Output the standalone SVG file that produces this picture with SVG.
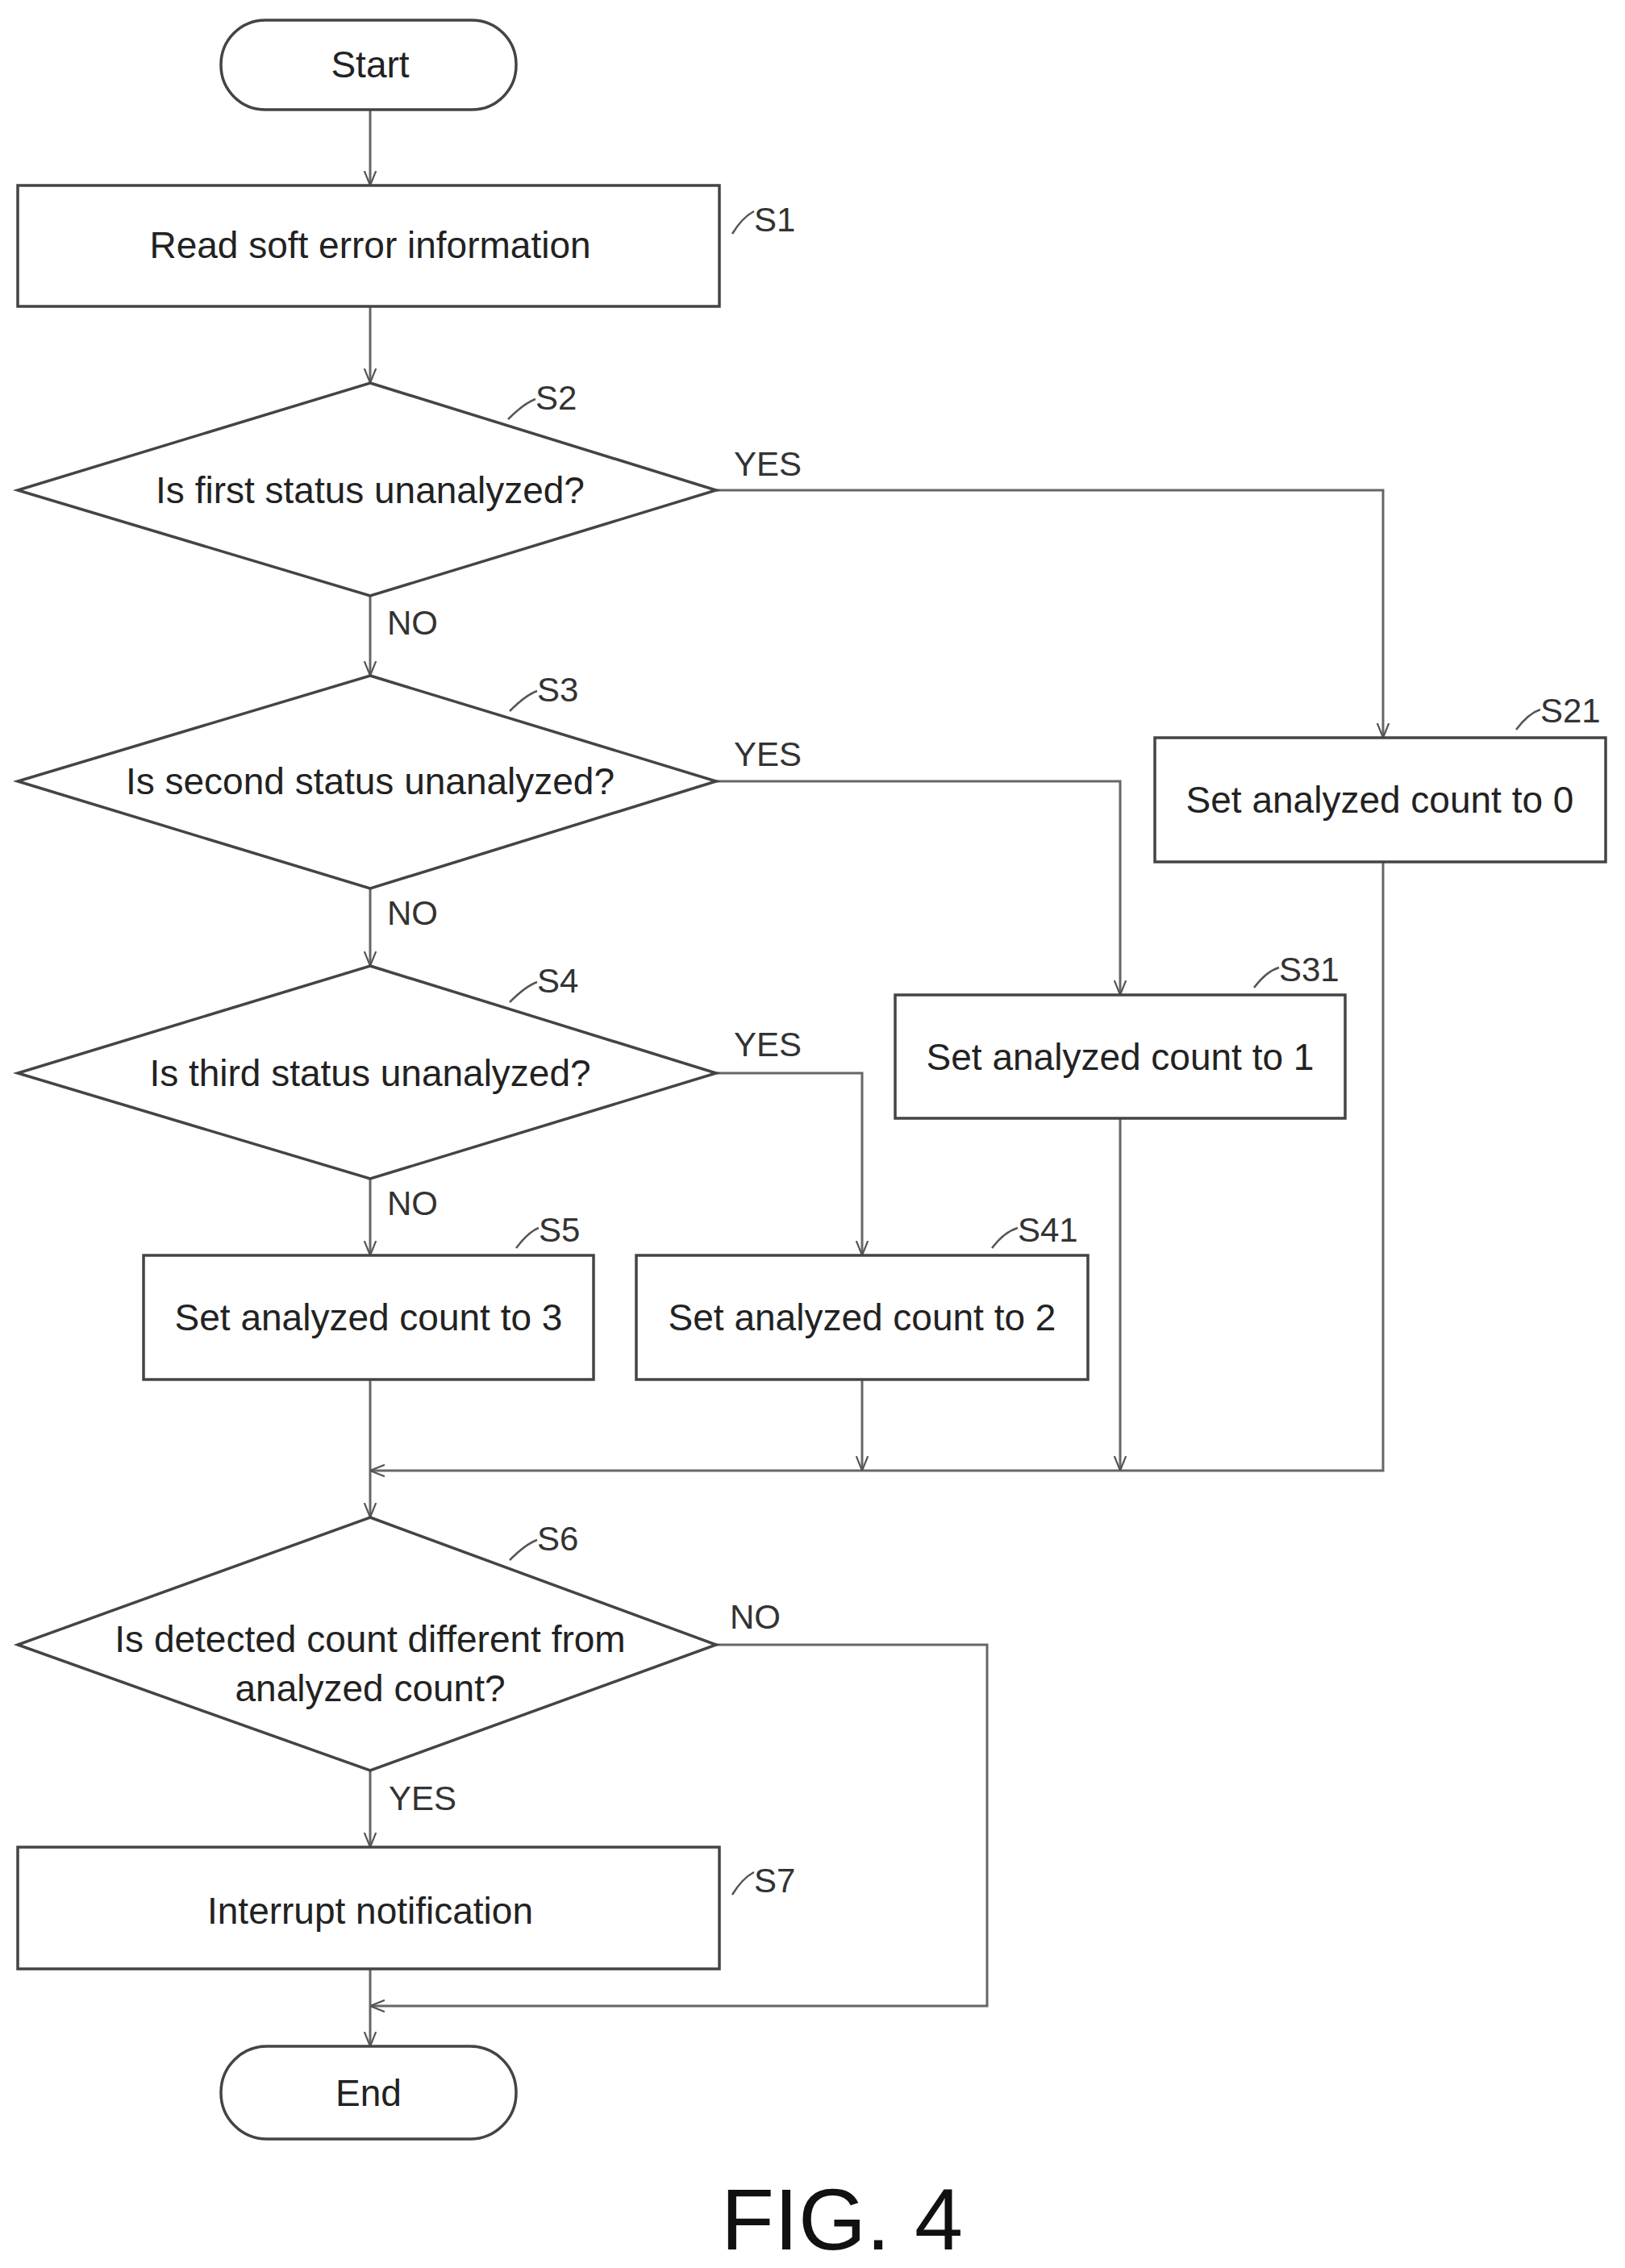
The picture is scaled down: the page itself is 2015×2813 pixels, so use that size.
<svg xmlns="http://www.w3.org/2000/svg" width="2015" height="2813" viewBox="0 0 2015 2813">
<style>
.s{fill:#fff;stroke:#444;stroke-width:3.5}
.t{font-family:"Liberation Sans",Arial,sans-serif;font-size:46px;fill:#222;text-anchor:middle}
.l{font-family:"Liberation Sans",Arial,sans-serif;font-size:42px;fill:#333}
.c{fill:none;stroke:#666;stroke-width:3}
.k{fill:none;stroke:#555;stroke-width:2.5}
</style>
<defs><marker id="a" viewBox="0 0 10 10" refX="10" refY="5" markerWidth="9" markerHeight="9" markerUnits="userSpaceOnUse" orient="auto"><path d="M0,0 L10,5 L0,10" fill="none" stroke="#555" stroke-width="1.5"/></marker>
<marker id="b" viewBox="0 0 10 10" refX="10" refY="5" markerWidth="18" markerHeight="18" markerUnits="userSpaceOnUse" orient="auto"><path d="M0,1 L10,5 L0,9" fill="none" stroke="#555" stroke-width="1.2"/></marker></defs>
<g id="connectors">
<path class="c" d="M459,136 V230" marker-end="url(#b)"/>
<path class="c" d="M459,380 V475" marker-end="url(#b)"/>
<path class="c" d="M459,739 V838" marker-end="url(#b)"/>
<path class="c" d="M459,1102 V1198" marker-end="url(#b)"/>
<path class="c" d="M459,1462 V1557" marker-end="url(#b)"/>
<path class="c" d="M459,1711 V1882" marker-end="url(#b)"/>
<path class="c" d="M888,608 H1715 V915" marker-end="url(#b)"/>
<path class="c" d="M888,969 H1389 V1234" marker-end="url(#b)"/>
<path class="c" d="M888,1331 H1069 V1557" marker-end="url(#b)"/>
<path class="c" d="M1715,1069 V1824 H459" marker-end="url(#b)"/>
<path class="c" d="M1389,1387 V1824" marker-end="url(#b)"/>
<path class="c" d="M1069,1711 V1824" marker-end="url(#b)"/>
<path class="c" d="M459,2196 V2291" marker-end="url(#b)"/>
<path class="c" d="M459,2442 V2538" marker-end="url(#b)"/>
<path class="c" d="M888,2040 H1224 V2488 H459" marker-end="url(#b)"/>
</g>
<g id="start"><rect class="s" x="274" y="25" width="366" height="111" rx="55"/><text class="t" x="459" y="96">Start</text></g>
<g id="S1"><rect class="s" x="22" y="230" width="870" height="150"/><text class="t" x="459" y="320">Read soft error information</text><path class="k" d="M908,290 Q920,270 935,262"/><text class="l" x="935" y="287">S1</text></g>
<g id="S2"><polygon class="s" points="459,475 888,608 459,739 22,608"/><text class="t" x="459" y="624">Is first status unanalyzed?</text><path class="k" d="M630,520 Q650,500 664,495"/><text class="l" x="664" y="508">S2</text><text class="l" x="910" y="590">YES</text><text class="l" x="480" y="787">NO</text></g>
<g id="S3"><polygon class="s" points="459,838 888,969 459,1102 22,969"/><text class="t" x="459" y="985">Is second status unanalyzed?</text><path class="k" d="M632,882 Q652,862 666,857"/><text class="l" x="666" y="870">S3</text><text class="l" x="910" y="950">YES</text><text class="l" x="480" y="1147">NO</text></g>
<g id="S4"><polygon class="s" points="459,1198 888,1331 459,1462 22,1331"/><text class="t" x="459" y="1347">Is third status unanalyzed?</text><path class="k" d="M632,1243 Q652,1223 666,1218"/><text class="l" x="666" y="1231">S4</text><text class="l" x="910" y="1310">YES</text><text class="l" x="480" y="1507">NO</text></g>
<g id="S21"><rect class="s" x="1432" y="915" width="559" height="154"/><text class="t" x="1711" y="1008">Set analyzed count to 0</text><path class="k" d="M1880,905 Q1895,885 1910,880"/><text class="l" x="1910" y="896">S21</text></g>
<g id="S31"><rect class="s" x="1110" y="1234" width="558" height="153"/><text class="t" x="1389" y="1327">Set analyzed count to 1</text><path class="k" d="M1555,1225 Q1570,1205 1586,1200"/><text class="l" x="1586" y="1217">S31</text></g>
<g id="S5"><rect class="s" x="178" y="1557" width="558" height="154"/><text class="t" x="457" y="1650">Set analyzed count to 3</text><path class="k" d="M640,1548 Q655,1528 668,1523"/><text class="l" x="668" y="1540">S5</text></g>
<g id="S41"><rect class="s" x="789" y="1557" width="560" height="154"/><text class="t" x="1069" y="1650">Set analyzed count to 2</text><path class="k" d="M1230,1548 Q1245,1528 1262,1523"/><text class="l" x="1262" y="1540">S41</text></g>
<g id="S6"><polygon class="s" points="459,1882 888,2040 459,2196 22,2040"/><text class="t" x="459" y="2049">Is detected count different from</text><text class="t" x="459" y="2110">analyzed count?</text><path class="k" d="M632,1935 Q652,1915 666,1910"/><text class="l" x="666" y="1923">S6</text><text class="l" x="905" y="2020">NO</text><text class="l" x="482" y="2245">YES</text></g>
<g id="S7"><rect class="s" x="22" y="2291" width="870" height="151"/><text class="t" x="459" y="2386">Interrupt notification</text><path class="k" d="M908,2350 Q920,2330 935,2322"/><text class="l" x="935" y="2347">S7</text></g>
<g id="end"><rect class="s" x="274" y="2538" width="366" height="115" rx="57"/><text class="t" x="457" y="2612">End</text></g>
<text x="1044" y="2790" style="font-family:'Liberation Sans',Arial,sans-serif;font-size:108px;fill:#111;text-anchor:middle">FIG. 4</text>
</svg>
